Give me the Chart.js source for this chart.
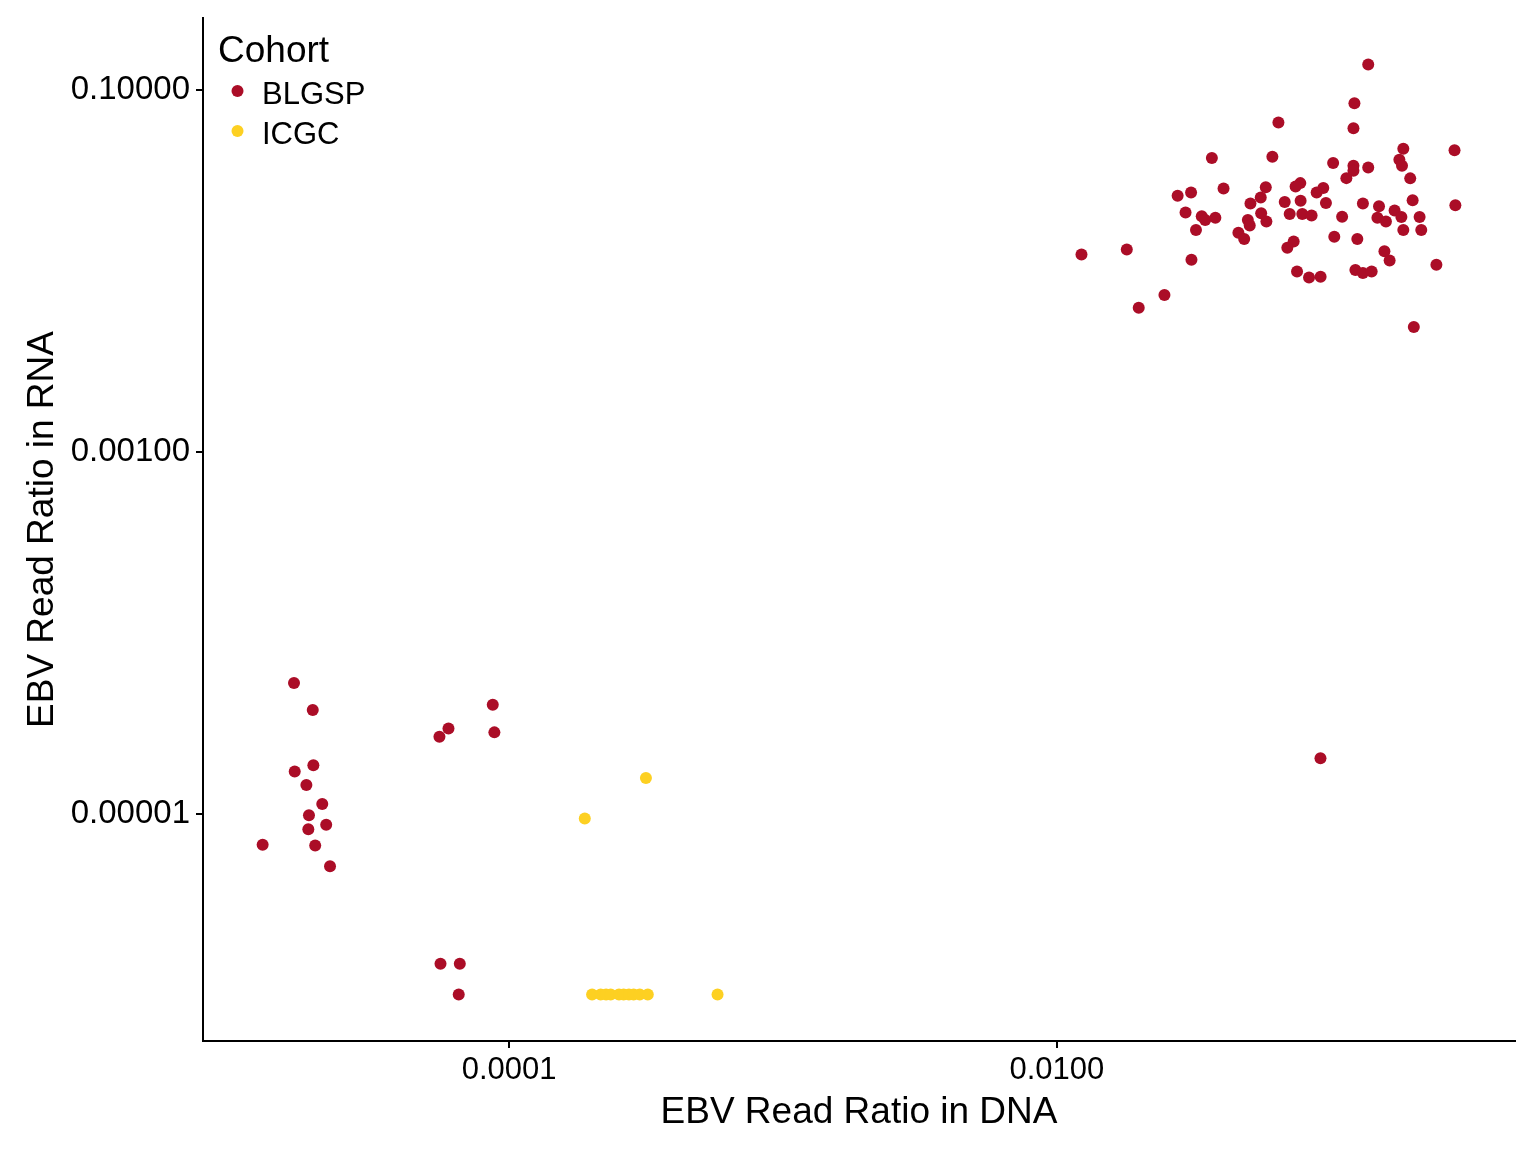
<!DOCTYPE html>
<html>
<head>
<meta charset="utf-8">
<script src="https://cdn.jsdelivr.net/npm/chart.js@4.4.0/dist/chart.umd.min.js"></script>
<style>
  body { margin: 0; background: #fff; }
  canvas { display: block; }
</style>
</head>
<body>
<canvas id="myChart" width="1536" height="1152"></canvas>
<script>
// cohorts
var cohortNames = ['BLGSP', 'ICGC'];
var cohortColors = ['#AB0D27', '#FDD022'];

// BLGSP: EBV read ratio in DNA / RNA
var blgspDna = [
  0.137, 0.122, 0.0644, 0.121, 0.184, 0.283, 0.0368, 0.0612, 0.102, 0.121,
  0.137, 0.178, 0.182, 0.121, 0.114, 0.195, 0.0406, 0.0579, 0.0774, 0.0744,
  0.0939, 0.0888, 0.0276, 0.0309, 0.0555, 0.0509, 0.0679, 0.0776, 0.0960, 0.131,
  0.150, 0.199, 0.285, 0.171, 0.0295, 0.0338, 0.0348, 0.0379, 0.0557, 0.0582,
  0.0708, 0.0787, 0.0851, 0.110, 0.148, 0.159, 0.181, 0.211, 0.0498, 0.0506,
  0.0322, 0.184, 0.214, 0.0460, 0.0483, 0.103, 0.125, 0.0732, 0.0694, 0.157,
  0.164, 0.0123, 0.0180, 0.0310, 0.243, 0.0753, 0.0833, 0.0918, 0.123, 0.131,
  0.141, 0.0247, 0.0199, 0.201, 0.0917,
  0.0000164, 0.0000192, 0.0000872, 0.0000601, 0.0000557, 0.0000884, 0.0000165, 0.0000193,
  0.0000182, 0.0000208, 0.0000186, 0.0000215, 0.0000185, 0.0000126, 0.0000196, 0.0000222,
  0.0000562, 0.0000661, 0.0000655
];
var blgspRna = [
  0.138, 0.0844, 0.0660, 0.0614, 0.0472, 0.0464, 0.0420, 0.0426, 0.0394, 0.0380,
  0.0372, 0.0411, 0.0380, 0.0357, 0.0325, 0.0324, 0.0285, 0.0289, 0.0305, 0.0292,
  0.0287, 0.0271, 0.0260, 0.0271, 0.0254, 0.0235, 0.0240, 0.0244, 0.0237, 0.0235,
  0.0227, 0.0245, 0.0230, 0.0215, 0.0210, 0.0200, 0.0191, 0.0196, 0.0208, 0.0187,
  0.0206, 0.0206, 0.0202, 0.0199, 0.0196, 0.0187, 0.0198, 0.0198, 0.0191, 0.0178,
  0.0168, 0.0168, 0.0168, 0.0162, 0.0150, 0.0154, 0.0150, 0.0145, 0.0134, 0.0128,
  0.0114, 0.0123, 0.0131, 0.0115, 0.0108, 0.00991, 0.00918, 0.00927, 0.0101, 0.00971,
  0.00991, 0.00734, 0.00625, 0.00489, 0.0000202,
  0.0000527, 0.0000374, 0.0000399, 0.0000295, 0.0000266, 0.0000281, 0.0000171, 0.0000185,
  0.0000144, 0.0000113, 0.00000979, 0.00000866, 0.00000819, 0.00000672, 0.00000666, 0.00000512,
  0.00000148, 0.00000148, 0.000001
];

// ICGC
var icgcDna = [0.000316, 0.000189, 0.000201, 0.000216, 0.000226, 0.000235, 0.000252,
  0.000262, 0.000274, 0.000285, 0.000300, 0.000321, 0.000577];
var icgcRna = [0.0000157, 0.00000938, 0.000001, 0.000001, 0.000001, 0.000001, 0.000001,
  0.000001, 0.000001, 0.000001, 0.000001, 0.000001, 0.000001];

// axis ticks
var xTicks = [0.0001, 0.01];
var yTicks = [0.00001, 0.001, 0.1];

function toPoints(xs, ys) {
    var pts = [];
    for (var i = 0; i < xs.length; i++) {
        pts.push({ x: xs[i], y: ys[i] });
    }
    return pts;
}

// ggplot style limits: data range +/- 5% in log space
function logLimits(arrs) {
    var all = [].concat.apply([], arrs);
    var lo = Math.log10(Math.min.apply(null, all));
    var hi = Math.log10(Math.max.apply(null, all));
    var pad = (hi - lo) * 0.05;
    return [Math.pow(10, lo - pad), Math.pow(10, hi + pad)];
}
var xLim = logLimits([blgspDna, icgcDna]);
var yLim = logLimits([blgspRna, icgcRna]);

var FONT = "'Liberation Sans', Arial, Helvetica, sans-serif";

// legend drawn inside the plot, top-left, like ggplot
var cohortLegend = {
    id: 'cohortLegend',
    afterDraw: function (chart) {
        var ctx = chart.ctx;
        ctx.save();
        ctx.fillStyle = '#000';
        ctx.textBaseline = 'alphabetic';
        ctx.textAlign = 'left';
        ctx.font = '37px ' + FONT;
        ctx.fillText('Cohort', 218, 62);
        ctx.font = '31px ' + FONT;
        for (var i = 0; i < cohortNames.length; i++) {
            var cy = 91 + i * 40;
            ctx.beginPath();
            ctx.fillStyle = cohortColors[i];
            ctx.arc(237.5, cy, 6, 0, Math.PI * 2);
            ctx.fill();
            ctx.fillStyle = '#000';
            ctx.fillText(cohortNames[i], 262, cy + 13);
        }
        ctx.restore();
    }
};

function noEdgePadding(scale) {
    scale.paddingTop = 0;
    scale.paddingBottom = 0;
    scale.paddingLeft = 0;
    scale.paddingRight = 0;
}

var ctx = document.getElementById('myChart').getContext('2d');
var myChart = new Chart(ctx, {
    type: 'scatter',
    data: {
        datasets: [{
            label: cohortNames[0],
            data: toPoints(blgspDna, blgspRna),
            backgroundColor: cohortColors[0],
            borderWidth: 0,
            pointRadius: 6
        },
        {
            label: cohortNames[1],
            data: toPoints(icgcDna, icgcRna),
            backgroundColor: cohortColors[1],
            borderWidth: 0,
            pointRadius: 6
        }]
    },
    options: {
        responsive: false,
        animation: false,
        layout: { padding: { top: 18, right: 21, left: 0, bottom: 0 } },
        plugins: {
            legend: { display: false },
            tooltip: { enabled: false }
        },
        scales: {
            x: {
                type: 'logarithmic',
                min: xLim[0],
                max: xLim[1],
                afterBuildTicks: function (scale) {
                    scale.ticks = xTicks.map(function (v) { return { value: v }; });
                },
                afterFit: function (scale) { scale.height = 111; noEdgePadding(scale); },
                ticks: {
                    color: '#000',
                    font: { family: FONT, size: 31 },
                    padding: 4,
                    maxRotation: 0,
                    callback: function (v) { return Number(v).toFixed(4); }
                },
                grid: { display: true, drawOnChartArea: false, drawTicks: true, tickLength: 7, color: '#000', lineWidth: 2 },
                border: { display: true, color: '#000', width: 2 },
                title: {
                    display: true,
                    text: 'EBV Read Ratio in DNA',
                    color: '#000',
                    font: { family: FONT, size: 37 },
                    padding: { top: 0, bottom: 17 }
                }
            },
            y: {
                type: 'logarithmic',
                min: yLim[0],
                max: yLim[1],
                afterBuildTicks: function (scale) {
                    scale.ticks = yTicks.map(function (v) { return { value: v }; });
                },
                afterFit: function (scale) { scale.width = 203; noEdgePadding(scale); },
                ticks: {
                    color: '#000',
                    font: { family: FONT, size: 33 },
                    padding: 6,
                    callback: function (v) { return Number(v).toFixed(5); }
                },
                grid: { display: true, drawOnChartArea: false, drawTicks: true, tickLength: 7, color: '#000', lineWidth: 2 },
                border: { display: true, color: '#000', width: 2 },
                title: {
                    display: true,
                    text: 'EBV Read Ratio in RNA',
                    color: '#000',
                    font: { family: FONT, size: 37 },
                    padding: { top: 21, bottom: 0 }
                }
            }
        }
    },
    plugins: [cohortLegend]
});
</script>
</body>
</html>
